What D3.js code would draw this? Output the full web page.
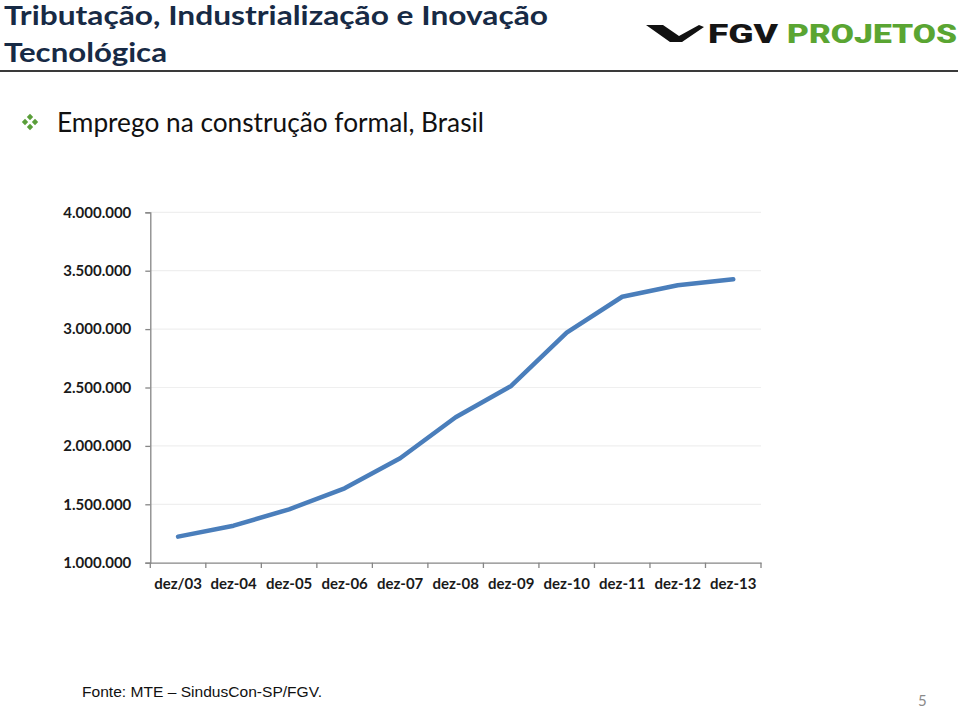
<!DOCTYPE html>
<html><head><meta charset="utf-8">
<script src="https://cdn.jsdelivr.net/npm/d3@7"></script>
<style>
html,body{margin:0;padding:0;background:#fff;}
svg{display:block;}
</style></head>
<body>
<script>
const categories = ["dez/03","dez-04","dez-05","dez-06","dez-07","dez-08","dez-09","dez-10","dez-11","dez-12","dez-13"];
const values = [1223000,1317000,1457000,1637000,1894000,2245000,2513000,2969000,3277000,3375000,3426000];
const yTicks = [1000000,1500000,2000000,2500000,3000000,3500000,4000000];
const titleLines = ["Tributação, Industrialização e Inovação","Tecnológica"];
const subtitle = "Emprego na construção formal, Brasil";
const source = "Fonte: MTE – SindusCon-SP/FGV.";
const pageNum = "5";

const W = 960, H = 708;
const svg = d3.select("body").append("svg").attr("width", W).attr("height", H);

// Title
const tcol = "#172a45";
svg.append("text").attr("x",4).attr("y",25).attr("font-family","Lato, 'Open Sans', sans-serif")
  .attr("font-weight",700).attr("font-size",26).attr("fill",tcol)
  .attr("textLength",544).attr("lengthAdjust","spacingAndGlyphs").text(titleLines[0]);
svg.append("text").attr("x",4).attr("y",62).attr("font-family","Lato, 'Open Sans', sans-serif")
  .attr("font-weight",700).attr("font-size",26).attr("fill",tcol)
  .attr("textLength",163).attr("lengthAdjust","spacingAndGlyphs").text(titleLines[1]);
svg.append("line").attr("x1",0).attr("x2",958).attr("y1",71).attr("y2",71)
  .attr("stroke","#3a3a3a").attr("stroke-width",2);

// Logo
svg.append("path").attr("d","M646,25 L663,25 L679,36 L699,25 L704,27 L682,42 L670,42 Z").attr("fill","#111");
svg.append("text").attr("x",708).attr("y",43).attr("font-family","Roboto, 'Open Sans', sans-serif")
  .attr("font-weight",900).attr("font-size",25).attr("fill","#151515")
  .attr("textLength",70).attr("lengthAdjust","spacingAndGlyphs").text("FGV");
svg.append("text").attr("x",787).attr("y",43).attr("font-family","Roboto, 'Open Sans', sans-serif")
  .attr("font-weight",900).attr("font-size",25).attr("fill","#5aa532")
  .attr("textLength",170).attr("lengthAdjust","spacingAndGlyphs").text("PROJETOS");

// Subtitle bullet (4 diamonds)
const bx = 30, by = 122, g = "#5a9e3a";
[[0,-5],[-5,0],[5,0],[0,5]].forEach(([dx,dy])=>{
  const cx=bx+dx, cy=by+dy, r=3.2;
  svg.append("path").attr("d",`M${cx},${cy-r} L${cx+r},${cy} L${cx},${cy+r} L${cx-r},${cy} Z`).attr("fill",g);
});
svg.append("text").attr("x",57).attr("y",132).attr("font-family","Lato, 'Open Sans', sans-serif")
  .attr("font-size",26).attr("fill","#111")
  .attr("textLength",427).attr("lengthAdjust","spacingAndGlyphs").text(subtitle);

// Chart
const x = d3.scaleBand().domain(categories).range([150.3, 761]);
const y = d3.scaleLinear().domain([1000000, 4000000]).range([562.7, 212.3]);
const loc = d3.formatLocale({decimal:",",thousands:".",grouping:[3],currency:["R$",""]});
const fmt = loc.format(",.0f");

// gridlines
svg.append("g").selectAll("line").data(yTicks.slice(1)).join("line")
  .attr("x1",150.3).attr("x2",761).attr("y1",d=>y(d)).attr("y2",d=>y(d))
  .attr("stroke","#efefef").attr("stroke-width",1.2);

const yAxis = svg.append("g").attr("transform","translate(150.3,0)")
  .call(d3.axisLeft(y).tickValues(yTicks).tickFormat(fmt).tickSize(5).tickPadding(14));
yAxis.select(".domain").attr("stroke","#868686").attr("stroke-width",1.3);
yAxis.selectAll(".tick line").attr("stroke","#868686").attr("stroke-width",1.3);
yAxis.selectAll("text").attr("font-family","Lato, 'Open Sans', sans-serif").attr("font-weight",700)
  .attr("font-size",15).attr("fill","#1a1a1a");

const xAxis = svg.append("g").attr("transform","translate(0,562.7)")
  .call(d3.axisBottom(x).tickSize(0).tickPadding(16));
xAxis.select(".domain").attr("stroke","#868686").attr("stroke-width",1.3);
xAxis.selectAll("text").attr("font-family","Lato, 'Open Sans', sans-serif").attr("font-weight",700)
  .attr("font-size",15).attr("fill","#1a1a1a");
// Excel-style tick marks at category boundaries
const bounds = categories.map(c=>x(c)).concat([x(categories[categories.length-1])+x.bandwidth()]);
svg.append("g").selectAll("line").data(bounds).join("line")
  .attr("x1",d=>d).attr("x2",d=>d).attr("y1",562.7).attr("y2",568)
  .attr("stroke","#868686").attr("stroke-width",1.3);

const line = d3.line().x((d,i)=>x(categories[i])+x.bandwidth()/2).y(d=>y(d));
svg.append("path").datum(values).attr("d",line).attr("fill","none")
  .attr("stroke","#4a7ebb").attr("stroke-width",4.5).attr("stroke-linejoin","round").attr("stroke-linecap","round");

// Footer
svg.append("text").attr("x",82).attr("y",697).attr("font-family","'Liberation Sans', Arial, sans-serif")
  .attr("font-size",15).attr("fill","#111")
  .attr("textLength",240).attr("lengthAdjust","spacingAndGlyphs").text(source);
svg.append("text").attr("x",918).attr("y",706).attr("font-family","Lato, sans-serif")
  .attr("font-size",15).attr("fill","#8a8a8a").text(pageNum);
</script>
</body></html>
